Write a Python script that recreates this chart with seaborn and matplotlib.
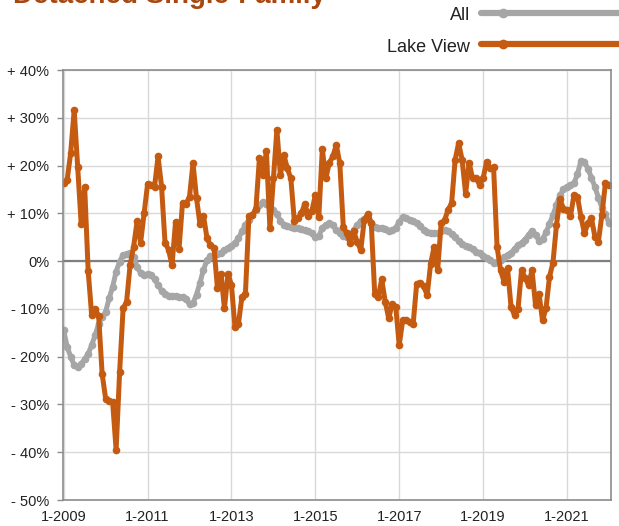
import numpy as np
import pandas as pd
import seaborn as sns
import matplotlib
matplotlib.use('Agg')
import matplotlib.pyplot as plt
from matplotlib.lines import Line2D

#########################
# Data (year-over-year change, %, monthly 1-2009 .. 1-2022)
#########################

months = pd.date_range('2009-01-01', periods=157, freq='MS')

all_area = [
    -14.5, -18.0, -20.0, -21.8, -22.2, -21.5, -20.5, -19.4, -17.6, -15.5,
    -13.1, -11.7, -10.6, -7.8, -5.4, -2.2, -0.1, 1.3, 1.5, 1.6,
    0.8, -1.2, -2.5, -2.9, -2.7, -3.0, -3.8, -5.0, -6.2, -6.8,
    -7.2, -7.3, -7.4, -7.5, -7.6, -8.0, -9.0, -8.8, -7.0, -4.5,
    -1.8, 0.2, 1.0, 1.3, 1.5, 1.8, 2.3, 2.7, 3.2, 3.8,
    4.8, 6.2, 7.6, 8.6, 9.6, 10.7, 11.8, 12.4, 12.0, 11.3,
    10.8, 9.8, 8.5, 7.6, 7.4, 7.2, 7.0, 6.9, 6.7, 6.5,
    6.2, 5.8, 5.0, 5.2, 7.0, 7.6, 7.9, 7.5, 6.5, 5.8,
    5.3, 5.1, 5.4, 6.5, 7.6, 8.4, 8.8, 9.0, 7.9, 7.2,
    7.0, 6.9, 6.8, 6.4, 6.5, 7.0, 8.2, 9.2, 9.0, 8.7,
    8.3, 7.9, 7.3, 6.6, 6.1, 5.8, 5.8, 5.9, 6.3, 6.5,
    6.2, 5.7, 5.0, 4.2, 3.5, 3.1, 3.0, 2.5, 2.0, 1.6,
    1.0, 0.6, 0.2, -0.3, -0.1, 0.2, 0.8, 1.3, 1.7, 2.6,
    3.4, 3.8, 4.5, 5.5, 6.4, 5.5, 4.3, 4.6, 6.0, 7.8,
    9.6, 11.8, 13.8, 15.0, 15.6, 15.9, 16.3, 18.2, 21.0, 20.8,
    19.3, 17.5, 15.5, 13.3, 11.2, 9.8, 8.0,
]

lake_view = [
    16.4, 17.0, 22.7, 31.6, 19.6, 7.8, 15.5, -2.0, -11.3, -10.0,
    -11.5, -23.6, -28.8, -29.2, -29.5, -39.5, -23.2, -9.9, -8.5, -0.8,
    3.0, 8.3, 3.8, 10.0, 16.1, 16.0, 15.6, 21.9, 15.6, 3.8,
    2.4, -0.9, 8.2, 2.6, 12.2, 12.0, 13.5, 20.5, 13.2, 7.7,
    9.5, 4.8, 3.3, 2.8, -5.7, -2.6, -9.9, -2.6, -5.0, -13.8,
    -13.1, -7.5, -6.8, 9.4, 9.6, 11.0, 21.5, 18.0, 23.0, 6.9,
    17.3, 27.5, 18.0, 22.2, 19.4, 17.3, 8.3, 9.0, 10.0, 12.0,
    9.4, 10.5, 13.8, 9.3, 23.4, 17.3, 20.6, 21.9, 24.3, 20.5,
    7.2, 5.8, 3.7, 6.2, 4.0, 2.3, 8.6, 9.9, 8.0, -6.9,
    -7.5, -3.8, -8.5, -12.0, -8.9, -9.5, -17.6, -12.4, -12.4, -12.8,
    -13.1, -4.7, -4.5, -5.3, -7.1, -0.5, 3.0, -1.9, 7.9, 8.6,
    10.8, 12.1, 21.2, 24.7, 21.2, 14.1, 20.6, 17.3, 17.3, 16.0,
    17.3, 20.8, 19.4, 19.7, 3.0, -1.9, -4.3, -1.5, -9.6, -11.3,
    -10.0, -1.9, -3.5, -5.0, -1.9, -9.2, -6.8, -12.4, -9.9, -3.3,
    -0.3, 7.6, 12.9, 11.0, 10.8, 9.4, 13.8, 13.5, 9.3, 5.8,
    7.9, 9.0, 5.1, 4.1, 9.7, 16.3, 15.9,
]

y_ticks = [40, 30, 20, 10, 0, -10, -20, -30, -40, -50]
y_labels = ['+ 40%', '+ 30%', '+ 20%', '+ 10%', '0%',
            '- 10%', '- 20%', '- 30%', '- 40%', '- 50%']
x_tick_years = [2009, 2011, 2013, 2015, 2017, 2019, 2021]

series_names = ['All', 'Lake View']
series_colors = ['#a6a6a6', '#c55a11']

#########################
# Plot
#########################

df = pd.DataFrame({'month': np.arange(len(months)),
                   'All': all_area, 'Lake View': lake_view})
long_df = df.melt(id_vars='month', var_name='area', value_name='change')

sns.set_style('white')
plt.rcParams['font.family'] = ['Liberation Sans', 'DejaVu Sans']

fig = plt.figure(figsize=(6.19, 5.26), dpi=100)
ax = fig.add_axes([63 / 619, 1 - 500 / 526, (611 - 63) / 619, (500 - 70) / 526])

sns.lineplot(data=long_df, x='month', y='change', hue='area',
             hue_order=series_names, palette=series_colors,
             linewidth=3.6, marker='o', markersize=5.5, markeredgewidth=0,
             legend=False, ax=ax)

ax.axhline(0, color='#7f7f7f', linewidth=1.6, zorder=1)

ax.set_ylim(-50, 40)
ax.set_xlim(-0.2, 156.6)
ax.set_yticks(y_ticks)
ax.set_yticklabels(y_labels)
tick_pos = [(yr - 2009) * 12 for yr in x_tick_years]
ax.set_xticks(tick_pos)
ax.set_xticklabels(['1-%d' % yr for yr in x_tick_years])
ax.set_xlabel('')
ax.set_ylabel('')

ax.grid(True, color='#d9d9d9', linewidth=1.0)
ax.set_axisbelow(True)
for sp in ax.spines.values():
    sp.set_color('#8c8c8c')
    sp.set_linewidth(1.2)

ax.tick_params(axis='y', length=4, width=1, color='#8c8c8c', left=True,
               labelsize=10.5, labelcolor='#222222', pad=6)
ax.tick_params(axis='x', length=0, labelsize=10.5, labelcolor='#222222', pad=7)

# title (cut off at the top, as in the original)
fig.text(13 / 619, 1 - 3 / 526, 'Detached Single-Family', fontsize=20,
         fontweight='bold', color='#a8470f', ha='left', va='baseline')

# legend drawn manually on the right
for i, (name, col) in enumerate(zip(series_names, series_colors)):
    ypx = 13 + i * 31
    yf = 1 - ypx / 526
    fig.text(470 / 619, 1 - (ypx + 3) / 526, name, fontsize=13,
             color='#222222', ha='right', va='center')
    fig.add_artist(Line2D([481 / 619, 1.02], [yf, yf], color=col,
                          linewidth=4.5, transform=fig.transFigure))
    fig.add_artist(Line2D([503 / 619], [yf], color=col, marker='o',
                          markersize=7, markeredgewidth=0,
                          transform=fig.transFigure))

fig.savefig('out.png', dpi=100)
